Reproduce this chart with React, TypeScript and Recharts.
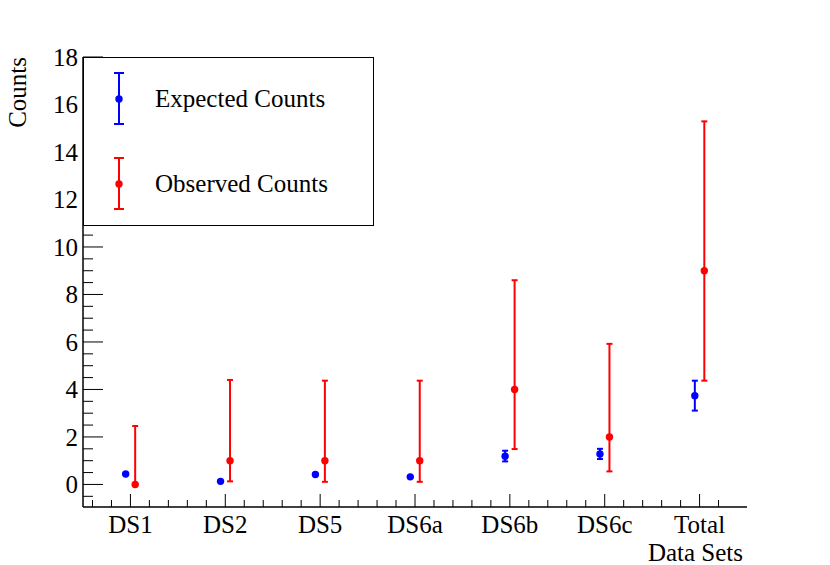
import React from 'react';
import { ScatterChart, Scatter, XAxis, YAxis, ErrorBar, Legend } from 'recharts';

const categories = ['DS1', 'DS2', 'DS5', 'DS6a', 'DS6b', 'DS6c', 'Total'];

const expected = [0.44, 0.13, 0.42, 0.32, 1.19, 1.28, 3.74];
const expectedLow = [0.44, 0.13, 0.42, 0.32, 0.97, 1.07, 3.11];
const expectedHigh = [0.44, 0.13, 0.42, 0.32, 1.42, 1.5, 4.37];

const observed = [0, 1, 1, 1, 4, 2, 9];
const observedLow = [0, 0.13, 0.11, 0.11, 1.49, 0.55, 4.37];
const observedHigh = [2.46, 4.4, 4.37, 4.37, 8.6, 5.92, 15.29];

const yLabels = [0, 2, 4, 6, 8, 10, 12, 14, 16, 18];

const BLUE = '#0000ff';
const RED = '#ff0000';
const FONT = '"Liberation Serif", "DejaVu Serif", serif';

// points of the two series sit a little either side of the bin centre
const SHIFT = 0.05;

const expectedData = categories.map((name, i) => ({
  name,
  x: i - SHIFT,
  y: expected[i],
  err: [expected[i] - expectedLow[i], expectedHigh[i] - expected[i]],
}));

const observedData = categories.map((name, i) => ({
  name,
  x: i + SHIFT,
  y: observed[i],
  err: [observed[i] - observedLow[i], observedHigh[i] - observed[i]],
}));

// axis divisions, ROOT style: minor ticks every 0.2 on x, every 0.5 on y
const xTicks = Array.from({ length: 34 }, (_, k) => Math.round((-0.4 + k * 0.2) * 10) / 10);
const yTicks = Array.from({ length: 38 }, (_, k) => -0.5 + k * 0.5);

const isWhole = (v: number) => Math.abs(v - Math.round(v)) < 1e-6;

function XTick(props: any) {
  const { x, y, payload } = props;
  const v = payload.value;
  const major = isWhole(v);
  return (
    <g>
      <line x1={x} y1={y} x2={x} y2={y - (major ? 13 : 7)} stroke="#000" strokeWidth={1} />
      {major && (
        <text x={x} y={y + 26} textAnchor="middle" fontFamily={FONT} fontSize={25} fill="#000">
          {categories[Math.round(v)]}
        </text>
      )}
    </g>
  );
}

function YTick(props: any) {
  const { x, y, payload } = props;
  const v = payload.value;
  const major = yLabels.includes(v);
  return (
    <g>
      <line x1={x} y1={y} x2={x + (major ? 20 : 10)} y2={y} stroke="#000" strokeWidth={1} />
      {major && (
        <text x={x - 5} y={y} dy="0.35em" textAnchor="end" fontFamily={FONT} fontSize={25} fill="#000">
          {v}
        </text>
      )}
    </g>
  );
}

const dot = (color: string) => (props: any) => <circle cx={props.cx} cy={props.cy} r={3.7} fill={color} />;

function LegendBox() {
  const rows = [
    { label: 'Expected Counts', color: BLUE, top: 16, mid: 42, bottom: 67 },
    { label: 'Observed Counts', color: RED, top: 101, mid: 127, bottom: 152 },
  ];
  return (
    <svg width={291} height={169} style={{ display: 'block' }}>
      <rect x={0.5} y={0.5} width={290} height={168} fill="#fff" stroke="#000" strokeWidth={1} />
      {rows.map((r) => (
        <g key={r.label}>
          <line x1={36} y1={r.top} x2={36} y2={r.bottom} stroke={r.color} strokeWidth={2} />
          <line x1={31} y1={r.top} x2={41} y2={r.top} stroke={r.color} strokeWidth={2} />
          <line x1={31} y1={r.bottom} x2={41} y2={r.bottom} stroke={r.color} strokeWidth={2} />
          <circle cx={36} cy={r.mid} r={3.7} fill={r.color} />
          <text x={72} y={r.mid} dy="0.3em" fontFamily={FONT} fontSize={25} fill="#000">
            {r.label}
          </text>
        </g>
      ))}
    </svg>
  );
}

export default function App() {
  return (
    <div style={{ position: 'absolute', left: 0, top: 0, width: 830, height: 565, background: '#fff' }}>
      <ScatterChart width={830} height={565} margin={{ top: 57, right: 83, bottom: 0, left: 0 }}>
        <XAxis
          xAxisId={0}
          type="number"
          dataKey="x"
          domain={[-0.5, 6.5]}
          ticks={xTicks}
          interval={0}
          allowDataOverflow
          height={58}
          tickSize={0}
          tickMargin={0}
          tickLine={false}
          tick={<XTick />}
          axisLine={{ stroke: '#000', strokeWidth: 1.5 }}
          label={{
            value: 'Data Sets',
            position: 'insideBottomRight',
            offset: 4,
            fontFamily: FONT,
            fontSize: 25,
            fill: '#000',
          }}
        />
        <XAxis
          xAxisId="top"
          orientation="top"
          type="number"
          domain={[-0.5, 6.5]}
          allowDataOverflow
          height={0}
          tick={false}
          tickLine={false}
          axisLine={{ stroke: '#000', strokeWidth: 1.5 }}
        />
        <YAxis
          yAxisId={0}
          type="number"
          dataKey="y"
          domain={[-0.95, 18]}
          ticks={yTicks}
          interval={0}
          allowDataOverflow
          width={83}
          tickSize={0}
          tickMargin={0}
          tickLine={false}
          tick={<YTick />}
          axisLine={{ stroke: '#000', strokeWidth: 1.5 }}
          label={() => (
            <text
              x={26}
              y={57}
              textAnchor="end"
              transform="rotate(-90, 26, 57)"
              fontFamily={FONT}
              fontSize={25}
              fill="#000"
            >
              Counts
            </text>
          )}
        />
        <YAxis
          yAxisId="right"
          orientation="right"
          type="number"
          domain={[-0.95, 18]}
          allowDataOverflow
          width={0}
          tick={false}
          tickLine={false}
          axisLine={{ stroke: '#000', strokeWidth: 1.5 }}
        />
        <Legend
          layout="horizontal"
          verticalAlign="middle"
          wrapperStyle={{ left: 83, top: 57, width: 291, height: 169 }}
          content={() => <LegendBox />}
        />
        <Scatter name="Expected Counts" data={expectedData} fill={BLUE} shape={dot(BLUE)} isAnimationActive={false}>
          <ErrorBar dataKey="err" direction="y" width={3} stroke={BLUE} strokeWidth={2} isAnimationActive={false} />
        </Scatter>
        <Scatter name="Observed Counts" data={observedData} fill={RED} shape={dot(RED)} isAnimationActive={false}>
          <ErrorBar dataKey="err" direction="y" width={3} stroke={RED} strokeWidth={2} isAnimationActive={false} />
        </Scatter>
      </ScatterChart>
    </div>
  );
}
